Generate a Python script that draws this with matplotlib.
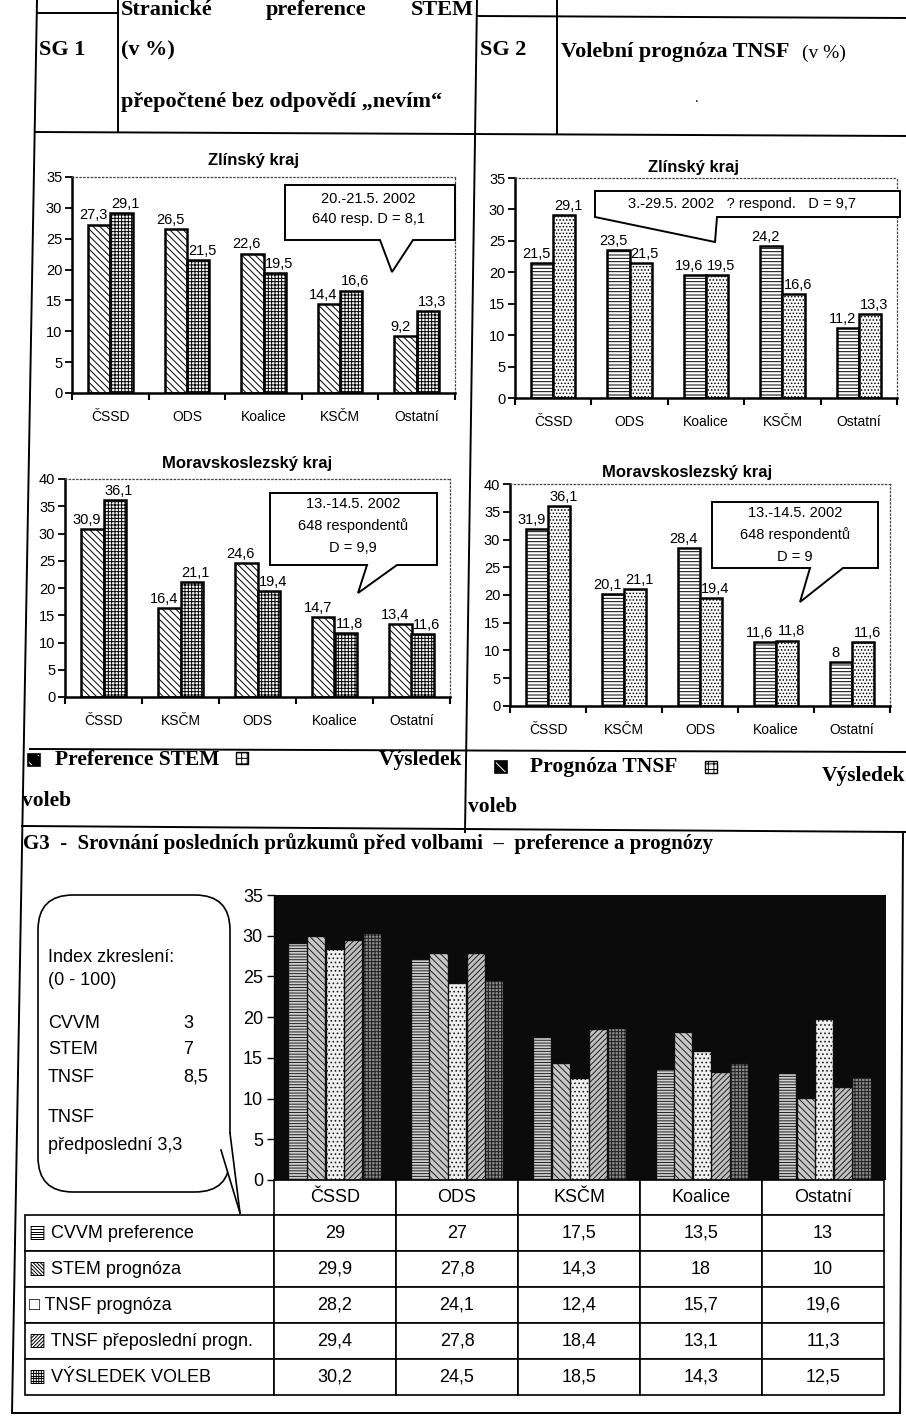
import numpy as np
import matplotlib
matplotlib.use('Agg')
import matplotlib.pyplot as plt
from matplotlib.patches import Polygon, FancyBboxPatch, Rectangle
from matplotlib.lines import Line2D
from matplotlib.table import Table

W, H = 906, 1425
SANS = ['Liberation Sans', 'DejaVu Sans']
SERIF = ['Liberation Serif', 'DejaVu Sans']
plt.rcParams['font.family'] = SANS
plt.rcParams['hatch.linewidth'] = 0.7

# ---------------- data ----------------
zl_cats = ['ČSSD', 'ODS', 'Koalice', 'KSČM', 'Ostatní']
zl_stem = [27.3, 26.5, 22.6, 14.4, 9.2]
zl_tnsf = [21.5, 23.5, 19.6, 24.2, 11.2]
zl_result = [29.1, 21.5, 19.5, 16.6, 13.3]

ms_cats = ['ČSSD', 'KSČM', 'ODS', 'Koalice', 'Ostatní']
ms_stem = [30.9, 16.4, 24.6, 14.7, 13.4]
ms_tnsf = [31.9, 20.1, 28.4, 11.6, 8]
ms_result = [36.1, 21.1, 19.4, 11.8, 11.6]

g3_cats = ['ČSSD', 'ODS', 'KSČM', 'Koalice', 'Ostatní']
g3_series = ['CVVM preference', 'STEM prognóza', 'TNSF prognóza',
             'TNSF přeposlední progn.', 'VÝSLEDEK VOLEB']
g3_icons = ['▤', '▧', '□', '▨', '▦']
g3_cvvm = [29, 27, 17.5, 13.5, 13]
g3_stem = [29.9, 27.8, 14.3, 18, 10]
g3_tnsf = [28.2, 24.1, 12.4, 15.7, 19.6]
g3_tnsf_prev = [29.4, 27.8, 18.4, 13.1, 11.3]
g3_result = [30.2, 24.5, 18.5, 14.3, 12.5]

bias_names = ['CVVM', 'STEM', 'TNSF', 'TNSF', 'předposlední']
bias_values = [3, 7, 8.5, None, 3.3]


def cz(v):
    return f'{v:g}'.replace('.', ',')


def rect(x0, y0, x1, y1):
    return [x0 / W, 1 - y1 / H, (x1 - x0) / W, (y1 - y0) / H]


fig = plt.figure(figsize=(W / 100, H / 100), dpi=100)
fig.patch.set_facecolor('white')


def small_chart(box, cats, first, second, ymax, hatches, dxs=(-4, 3)):
    ax = fig.add_axes(rect(*box))
    x = np.arange(len(cats))
    w = 0.29
    for vals, off, hatch, dx in ((first, -w / 2, hatches[0], dxs[0]),
                                 (second, w / 2, hatches[1], dxs[1])):
        bars = ax.bar(x + off, vals, w, color='white', edgecolor='black',
                      hatch=hatch, linewidth=1.8, zorder=2)
        for b, v in zip(bars, vals):
            ax.annotate(cz(v), (b.get_x() + b.get_width() / 2, v),
                        xytext=(dx, 1.5), textcoords='offset points',
                        ha='center', va='bottom', fontsize=10.5)
    ax.set_xlim(-0.5, len(cats) - 0.5)
    ax.set_ylim(0, ymax)
    ax.set_yticks(np.arange(0, ymax + 1, 5))
    ax.set_xticks(x, cats)
    ax.set_xticks(np.arange(-0.5, len(cats)), minor=True)
    ax.tick_params(axis='x', which='major', length=0, pad=12, labelsize=10)
    ax.tick_params(axis='x', which='minor', length=5, width=1.5, direction='out')
    ax.tick_params(axis='y', length=5, width=1.3, direction='out',
                   labelsize=10.5, pad=2)
    for s in ('left', 'bottom'):
        ax.spines[s].set_linewidth(1.8)
    for s in ('top', 'right'):
        ax.spines[s].set_linestyle((0, (1, 2)))
        ax.spines[s].set_linewidth(0.9)
        ax.spines[s].set_color('#444444')
    ax.set_facecolor('none')
    return ax


small_chart((72, 177, 455, 393), zl_cats, zl_stem, zl_result, 35,
            ('\\\\\\\\\\', '+++++'))
small_chart((515, 178, 897, 398), zl_cats, zl_tnsf, zl_result, 35,
            ('-----', '.....'))
small_chart((65, 479, 450, 697), ms_cats, ms_stem, ms_result, 40,
            ('\\\\\\\\\\', '+++++'))
small_chart((510, 484, 890, 706), ms_cats, ms_tnsf, ms_result, 40,
            ('-----', '.....'))

# ---------------- G3 chart ----------------
ax3 = fig.add_axes(rect(274, 895, 886, 1180))
ax3.set_facecolor('#0b0b0b')
g3_all = [g3_cvvm, g3_stem, g3_tnsf, g3_tnsf_prev, g3_result]
g3_hatches = ['------', '\\\\\\\\\\', '....', '//////', '+++++']
g3_faces = ['#d0d0d0', '#c8c8c8', '#f0f0f0', '#c0c0c0', '#8c8c8c']
bw = 0.152
xg = np.arange(len(g3_cats))
for i, (vals, h, fc) in enumerate(zip(g3_all, g3_hatches, g3_faces)):
    ax3.bar(xg + (i - 2) * bw, vals, bw * 0.93, color=fc, edgecolor='#202020',
            hatch=h, linewidth=0.3)
ax3.set_xlim(-0.5, len(g3_cats) - 0.5)
ax3.set_ylim(0, 35)
ax3.set_yticks(np.arange(0, 36, 5))
ax3.set_xticks([])
ax3.tick_params(axis='y', length=5, width=1.0, direction='out', labelsize=13, pad=3)
for s in ('top', 'right', 'bottom'):
    ax3.spines[s].set_visible(False)
ax3.spines['left'].set_linewidth(1.0)

# ---------------- G3 table ----------------
axt = fig.add_axes(rect(25, 1180, 884, 1395))
axt.axis('off')
tbl = Table(axt, bbox=[0, 0, 1, 1])
lab_w, dat_w, head_h, row_h = 249, 122, 35, 36
for j, c in enumerate(g3_cats):
    tbl.add_cell(0, j + 1, dat_w, head_h, text=c, loc='center')
for i, (name, vals) in enumerate(zip(g3_series, g3_all)):
    cell = tbl.add_cell(i + 1, 0, lab_w, row_h, text=f'{g3_icons[i]} {name}', loc='left')
    cell.PAD = 0.015
    for j, v in enumerate(vals):
        tbl.add_cell(i + 1, j + 1, dat_w, row_h, text=cz(v), loc='center')
tbl.auto_set_font_size(False)
tbl.set_fontsize(13)
for cell in tbl.get_celld().values():
    cell.set_linewidth(1.2)
axt.add_table(tbl)

# ---------------- overlay (document frame, texts, callouts) ----------------
ov = fig.add_axes([0, 0, 1, 1], zorder=20)
ov.set_xlim(0, W)
ov.set_ylim(H, 0)
ov.axis('off')
ov.patch.set_alpha(0)


def line(p, q, lw=1.4):
    ov.add_line(Line2D([p[0], q[0]], [p[1], q[1]], color='black', lw=lw))


line((37, 0), (12, 1413))
line((37, 13), (118, 13))
line((477, 16), (906, 18))
line((118, 0), (118, 132))
line((477, 0), (465, 832))
line((557, 0), (557, 134))
line((35, 132), (906, 136))
line((30, 749), (906, 752))
line((22, 826), (906, 832))
line((903, 832), (900, 1413))
line((12, 1413), (900, 1413))

# header texts
hs = dict(family=SERIF, fontweight='bold', fontsize=16, va='center')
ov.text(39, 50, 'SG 1', ha='left', **hs)
ov.text(121, 10, 'Stranické', ha='left', **hs)
ov.text(316, 10, 'preference', ha='center', **hs)
ov.text(474, 10, 'STEM', ha='right', **hs)
ov.text(121, 50, '(v %)', ha='left', **hs)
ov.text(121, 102, 'přepočtené bez odpovědí „nevím“', ha='left', **hs)
ov.text(480, 50, 'SG 2', ha='left', **hs)
ov.text(561, 52, 'Volební prognóza TNSF', ha='left', **hs)
ov.text(802, 53, '(v %)', ha='left', family=SERIF, fontsize=14, va='center')
ov.text(697, 98, '.', ha='center', va='center', fontsize=10)

# chart titles
ts = dict(fontweight='bold', fontsize=12, ha='center', va='center')
ov.text(253, 160, 'Zlínský kraj', **ts)
ov.text(693, 167, 'Zlínský kraj', **ts)
ov.text(247, 463, 'Moravskoslezský kraj', **ts)
ov.text(687, 472, 'Moravskoslezský kraj', **ts)


def bubble(x0, y0, x1, y1, b0, tip, b1, lines, tx, ty, dy):
    pts = [(x0, y0), (x1, y0), (x1, y1), (b1, y1), tip, (b0, y1), (x0, y1)]
    ov.add_patch(Polygon(pts, closed=True, facecolor='white',
                         edgecolor='black', lw=1.4))
    for k, t in enumerate(lines):
        ov.text(tx, ty + k * dy, t, ha='center', va='center', fontsize=10.5)


bubble(285, 185, 455, 240, 380, (392, 272), 413,
       ['20.-21.5. 2002', '640 resp. D = 8,1'], 368, 199, 20)
bubble(595, 191, 900, 217, 595, (715, 242), 717,
       ['3.-29.5. 2002   ? respond.   D = 9,7'], 742, 204, 0)
bubble(270, 493, 437, 565, 367, (358, 593), 397,
       ['13.-14.5. 2002', '648 respondentů', 'D = 9,9'], 353, 504, 22)
bubble(712, 502, 878, 568, 810, (800, 602), 843,
       ['13.-14.5. 2002', '648 respondentů', 'D = 9'], 795, 513, 22)


def icon(x, y, dark):
    if dark:
        ov.add_patch(Rectangle((x, y - 6), 12, 12, facecolor='black',
                               edgecolor='white', hatch='\\\\', lw=0))
        ov.add_patch(Rectangle((x, y - 6), 12, 12, facecolor='none',
                               edgecolor='black', lw=1.2))
    else:
        ov.add_patch(Rectangle((x, y - 6), 12, 12, facecolor='white',
                               edgecolor='black', hatch='+++', lw=1.0))


# legend row
ls = dict(family=SERIF, fontweight='bold', fontsize=15.5, va='center')
icon(28, 760, True)
ov.text(55, 760, 'Preference STEM', ha='left', **ls)
icon(236, 758, False)
ov.text(462, 760, 'Výsledek', ha='right', **ls)
ov.text(22, 801, 'voleb', ha='left', **ls)
icon(495, 767, True)
ov.text(530, 767, 'Prognóza TNSF', ha='left', **ls)
icon(705, 767, False)
ov.text(905, 776, 'Výsledek', ha='right', **ls)
ov.text(468, 807, 'voleb', ha='left', **ls)

# G3 title
ov.text(23, 844, 'G3  -  Srovnání posledních průzkumů před volbami  –  preference a prognózy',
        ha='left', va='center', family=SERIF, fontweight='bold', fontsize=15)

# G3 index callout
ov.add_patch(FancyBboxPatch((38, 895), 192, 297,
                            boxstyle='round,pad=0,rounding_size=35',
                            facecolor='white', edgecolor='black', lw=1.2))
ov.add_patch(Polygon([(221, 1150), (240, 1213), (230, 1133)], closed=True,
                     facecolor='white', edgecolor='none'))
line((221, 1150), (240, 1213), lw=1.2)
line((230, 1133), (240, 1213), lw=1.2)
bs = dict(fontsize=13, ha='left', va='center')
ov.text(48, 957, 'Index zkreslení:', **bs)
ov.text(48, 980, '(0 - 100)', **bs)
ys = [1023, 1050, 1077, 1118, 1145]
for name, val, y in zip(bias_names, bias_values, ys):
    if name == 'předposlední':
        ov.text(48, y, f'{name} {cz(val)}', **bs)
    else:
        ov.text(48, y, name, **bs)
        if val is not None:
            ov.text(183, y, cz(val), **bs)

fig.savefig('out.png', dpi=100, facecolor='white')
